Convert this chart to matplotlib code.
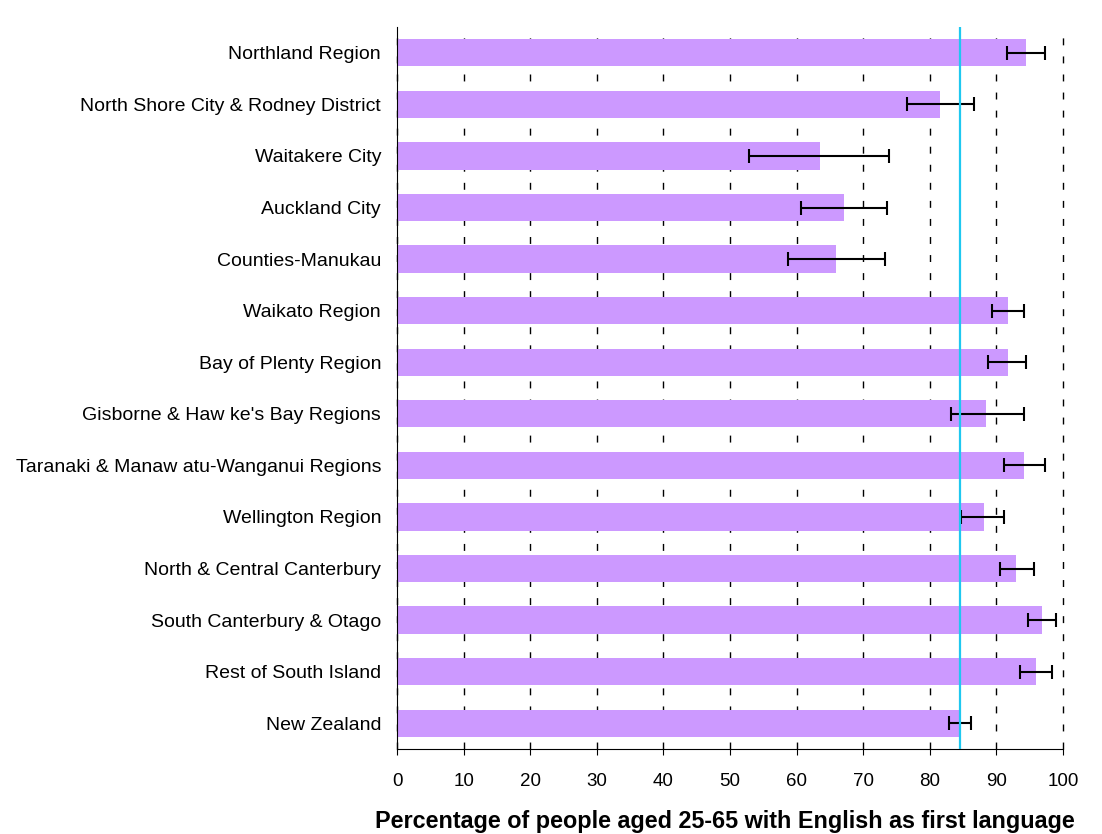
import matplotlib
matplotlib.use("Agg")
import matplotlib.pyplot as plt

plt.rcParams['font.family'] = ['Liberation Sans', 'DejaVu Sans']

regions = [
    "Northland Region",
    "North Shore City & Rodney District",
    "Waitakere City",
    "Auckland City",
    "Counties-Manukau",
    "Waikato Region",
    "Bay of Plenty Region",
    "Gisborne & Haw ke's Bay Regions",
    "Taranaki & Manaw atu-Wanganui Regions",
    "Wellington Region",
    "North & Central Canterbury",
    "South Canterbury & Otago",
    "Rest of South Island",
    "New Zealand",
]
values = [94.4, 81.6, 63.5, 67.1, 65.9, 91.7, 91.7, 88.5, 94.1, 88.1, 93.0, 96.9, 95.9, 84.6]
ci_low = [91.6, 76.6, 52.8, 60.6, 58.7, 89.4, 88.8, 83.2, 91.1, 84.7, 90.5, 94.7, 93.5, 82.9]
ci_high = [97.3, 86.6, 73.8, 73.6, 73.2, 94.2, 94.5, 94.2, 97.3, 91.1, 95.6, 99.0, 98.4, 86.2]
nz_value = values[-1]

ypos = list(range(len(regions)))
err = [[v - lo for v, lo in zip(values, ci_low)],
       [hi - v for v, hi in zip(values, ci_high)]]

fig = plt.figure(figsize=(11.02, 8.34), dpi=100)
ax = fig.add_axes([0.3603, 0.1019, 0.6043, 0.8657])

ax.barh(ypos, values, height=0.53, color='#CC99FF', zorder=2)
ax.errorbar(values, ypos, xerr=err, fmt='none', ecolor='black',
            elinewidth=1.5, capsize=4.7, capthick=1.5, zorder=3)
ax.axvline(nz_value, color='#1EC8F0', linewidth=1.6, zorder=4)

ax.set_xlim(0, 100)
ax.set_ylim(len(regions) - 0.5, -0.5)
ax.set_xticks(range(0, 101, 10))
ax.set_yticks(ypos)
ax.set_yticklabels(regions, fontsize=14)
ax.tick_params(axis='y', length=0, pad=11.5)
ax.tick_params(axis='x', labelsize=13.5, length=4.5, direction='out', pad=12.5)
ax.xaxis.grid(True, linestyle=(0, (5, 8)), color='black', linewidth=1, zorder=1)
for gl in ax.get_xgridlines():
    gl.set_clip_on(False)
ax.set_axisbelow(True)
for s in ['top', 'right']:
    ax.spines[s].set_visible(False)

fig.text(725 / 1102, 6 / 834,
         "Percentage of people aged 25-65 with English as first language",
         fontsize=16.8, fontweight='bold', ha='center', va='baseline')

fig.savefig("out.png", dpi=100)
